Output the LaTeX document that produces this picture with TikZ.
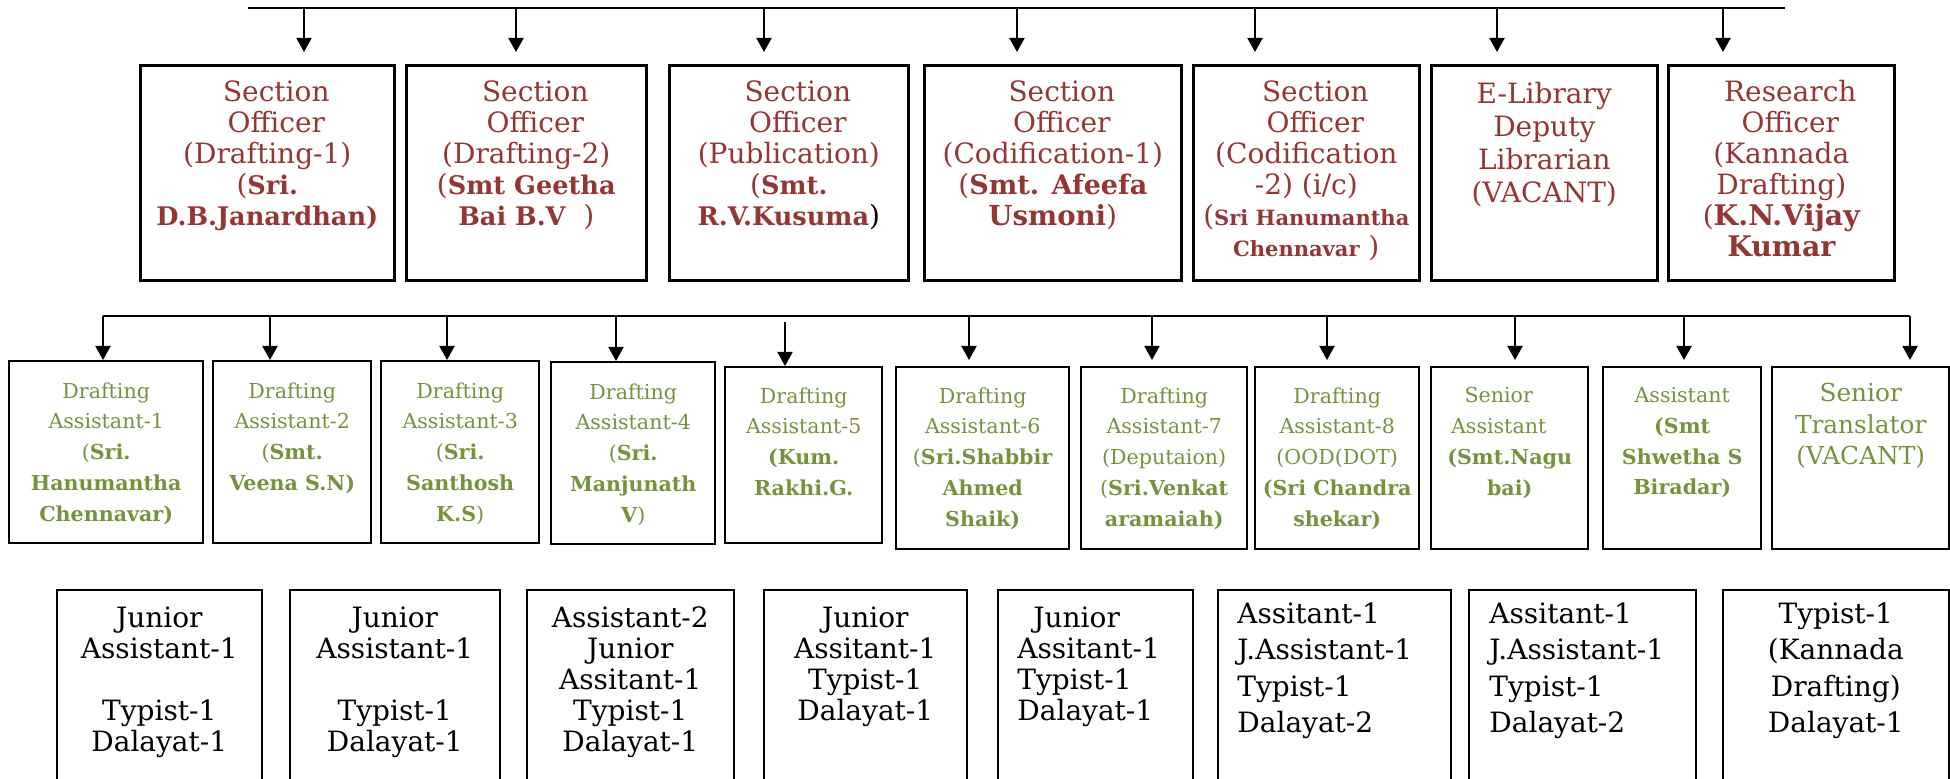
\documentclass[tikz,border=0pt]{standalone}
\usepackage{fontspec}
\setmainfont{DejaVu Serif}
\usepackage{xcolor}
\usepackage{tikz}
\usetikzlibrary{arrows.meta,positioning}
\definecolor{sored}{HTML}{943634}
\definecolor{dagreen}{HTML}{76923C}
\newcommand{\pname}[2][12.8]{{\fontsize{#1}{15.5}\selectfont\bfseries #2}}

\begin{document}
\begin{tikzpicture}[x=0.5pt,y=-0.5pt,
arr/.style={line width=1pt,-{Triangle[width=7.5pt,length=7pt]}},
sobox/.style={draw,line width=1.3pt,inner sep=0pt,anchor=north west,minimum height=107.5pt},
dabox/.style={draw,line width=1.2pt,inner sep=0pt,anchor=north west,minimum height=91pt},
stbox/.style={draw,line width=0.8pt,inner sep=0pt,anchor=north west,minimum height=110pt},
sotext/.style={inner sep=0pt,align=center,text=sored,font=\fontsize{14}{15.5}\selectfont},
datext/.style={inner sep=0pt,align=center,text=dagreen,font=\fontsize{10.3}{15.4}\selectfont},
sttext/.style={inner sep=0pt,align=center,font=\fontsize{14}{15.5}\selectfont}]
\useasboundingbox(0,0)rectangle(1950,779);
\clip(0,0)rectangle(1950,779);
\node[sobox,minimum width=127pt](so1)at(139,64){};
\node[sobox,minimum width=120pt](so2)at(405,64){};
\node[sobox,minimum width=119.5pt](so3)at(668,64){};
\node[sobox,minimum width=128.5pt](so4)at(923,64){};
\node[sobox,minimum width=113pt](so5)at(1192,64){};
\node[sobox,minimum width=113pt](so6)at(1430,64){};
\node[sobox,minimum width=113pt](so7)at(1667,64){};
\node[sotext,below=8pt of so1.north](so1t){\hspace*{9pt}Section\\\hspace*{9pt}Officer\\(Drafting-1)\\(\pname{Sri.}\\\pname{D.B.Janardhan)}};
\node[sotext,below=8pt of so2.north](so2t){\hspace*{9pt}Section\\\hspace*{9pt}Officer\\(Drafting-2)\\(\pname{Smt Geetha}\\\pname{Bai B.V}\ \ )};
\node[sotext,below=8pt of so3.north](so3t){\hspace*{9pt}Section\\\hspace*{9pt}Officer\\(Publication)\\(\pname{Smt.}\\\pname{R.V.Kusuma}\textcolor{black}{)}};
\node[sotext,below=8pt of so4.north](so4t){\hspace*{9pt}Section\\\hspace*{9pt}Officer\\(Codification-1)\\(\pname[13.5]{Smt. Afeefa}\\\pname[13.8]{Usmoni})};
\node[sotext,below=8pt of so5.north](so5t){\hspace*{9pt}Section\\\hspace*{9pt}Officer\\(Codification\\-2) (i/c)\\(\pname[10.5]{Sri Hanumantha}\\\pname[10.5]{Chennavar}\ )};
\node[sotext,font=\fontsize{14}{16.5}\selectfont,below=9pt of so6.north](so6t){E-Library\\Deputy\\Librarian\\(VACANT)};
\node[sotext,below=8pt of so7.north](so7t){\hspace*{9pt}Research\\\hspace*{9pt}Officer\\(Kannada\\Drafting)\\(\pname[14.2]{K.N.Vijay}\\\pname[14.2]{Kumar}};
\coordinate(tl)at(248,8);
\coordinate(tr)at(1785,8);
\coordinate(tp1)at(304,8);
\coordinate(tp2)at(516,8);
\coordinate(tp3)at(764,8);
\coordinate(tp4)at(1017,8);
\coordinate(tp5)at(1255,8);
\coordinate(tp6)at(1497,8);
\coordinate(tp7)at(1723,8);
\draw[line width=1.4pt](tl)--(tr);
\draw[arr,shorten >=6pt](tp1)--(tp1|-so1.north);
\draw[arr,shorten >=6pt](tp2)--(tp2|-so2.north);
\draw[arr,shorten >=6pt](tp3)--(tp3|-so3.north);
\draw[arr,shorten >=6pt](tp4)--(tp4|-so4.north);
\draw[arr,shorten >=6pt](tp5)--(tp5|-so5.north);
\draw[arr,shorten >=6pt](tp6)--(tp6|-so6.north);
\draw[arr,shorten >=6pt](tp7)--(tp7|-so7.north);
\node[dabox,minimum width=97pt](da1)at(8,360){};
\node[dabox,minimum width=79pt](da2)at(212,360){};
\node[dabox,minimum width=79pt](da3)at(380,360){};
\node[dabox,minimum width=82pt](da4)at(550,361){};
\node[dabox,minimum width=78.5pt,minimum height=88pt](da5)at(724,366){};
\node[dabox,minimum width=86.5pt](da6)at(895,366){};
\node[dabox,minimum width=83pt](da7)at(1080,366){};
\node[dabox,minimum width=82pt](da8)at(1254,366){};
\node[dabox,minimum width=78.5pt](da9)at(1430,366){};
\node[dabox,minimum width=79pt](da10)at(1602,366){};
\node[dabox,minimum width=88.5pt](da11)at(1771,366){};
\node[datext,below=11pt of da1.north](da1t){Drafting\\Assistant-1\\(\textbf{Sri.}\\\textbf{Hanumantha}\\\textbf{Chennavar)}};
\node[datext,below=11pt of da2.north](da2t){Drafting\\Assistant-2\\(\textbf{Smt.}\\\textbf{Veena S.N)}};
\node[datext,below=11pt of da3.north](da3t){Drafting\\Assistant-3\\(\textbf{Sri.}\\\textbf{Santhosh}\\\textbf{K.S})};
\node[datext,below=11pt of da4.north](da4t){Drafting\\Assistant-4\\(\textbf{Sri.}\\\textbf{Manjunath}\\\textbf{V})};
\node[datext,below=10.5pt of da5.north](da5t){Drafting\\Assistant-5\\\textbf{(Kum.}\\\textbf{Rakhi.G.}};
\node[datext,below=10.5pt of da6.north](da6t){Drafting\\Assistant-6\\(\textbf{Sri.Shabbir}\\\textbf{Ahmed}\\\textbf{Shaik)}};
\node[datext,below=10.5pt of da7.north](da7t){Drafting\\Assistant-7\\(Deputaion)\\(\textbf{Sri.Venkat}\\\textbf{aramaiah)}};
\node[datext,below=10.5pt of da8.north](da8t){Drafting\\Assistant-8\\(OOD(DOT)\\\textbf{(Sri Chandra}\\\textbf{shekar)}};
\node[datext,below=10.5pt of da9.north](da9t){Senior\rule{11pt}{0pt}\\Assistant\rule{11pt}{0pt}\\\textbf{(Smt.Nagu}\\\textbf{bai)}};
\node[datext,below=10.5pt of da10.north](da10t){Assistant\\\textbf{(Smt}\\\textbf{Shwetha S}\\\textbf{Biradar)}};
\node[datext,font=\fontsize{12.4}{15.75}\selectfont,below=8.5pt of da11.north](da11t){Senior\\Translator\\(VACANT)};
\coordinate(ml)at(103,316);
\coordinate(mr)at(1910,316);
\coordinate(mp1)at(103,316);
\coordinate(mp2)at(270,316);
\coordinate(mp3)at(447,316);
\coordinate(mp4)at(616,316);
\coordinate(mp5)at(785,316);
\coordinate(mp6)at(969,316);
\coordinate(mp7)at(1152,316);
\coordinate(mp8)at(1327,316);
\coordinate(mp9)at(1515,316);
\coordinate(mp10)at(1684,316);
\coordinate(mp11)at(1910,316);
\draw[line width=1.3pt](ml)--(mr);
\draw[arr](mp1)--(mp1|-da1.north);
\draw[arr](mp2)--(mp2|-da2.north);
\draw[arr](mp3)--(mp3|-da3.north);
\draw[arr](mp4)--(mp4|-da4.north);
\draw[arr,shorten <=3pt](mp5)--(mp5|-da5.north);
\draw[arr,shorten >=3pt](mp6)--(mp6|-da6.north);
\draw[arr,shorten >=3pt](mp7)--(mp7|-da7.north);
\draw[arr,shorten >=3pt](mp8)--(mp8|-da8.north);
\draw[arr,shorten >=3pt](mp9)--(mp9|-da9.north);
\draw[arr,shorten >=3pt](mp10)--(mp10|-da10.north);
\draw[arr,shorten >=3pt](mp11)--(mp11|-da11.north);
\node[stbox,minimum width=102.5pt](st1)at(56,589){};
\node[stbox,minimum width=105pt](st2)at(289,589){};
\node[stbox,minimum width=103.5pt](st3)at(526,589){};
\node[stbox,minimum width=101.5pt](st4)at(763,589){};
\node[stbox,minimum width=97.5pt](st5)at(997,589){};
\node[stbox,minimum width=116.5pt](st6)at(1217,589){};
\node[stbox,minimum width=113.5pt](st7)at(1468,589){};
\node[stbox,minimum width=113pt](st8)at(1722,589){};
\node[sttext,below=8.5pt of st1.north](st1t){Junior\\Assistant-1\\~\\Typist-1\\Dalayat-1};
\node[sttext,below=8.5pt of st2.north](st2t){Junior\\Assistant-1\\~\\Typist-1\\Dalayat-1};
\node[sttext,below=8.5pt of st3.north](st3t){Assistant-2\\Junior\\Assitant-1\\Typist-1\\Dalayat-1};
\node[sttext,below=8.5pt of st4.north](st4t){Junior\\Assitant-1\\Typist-1\\Dalayat-1};
\node[sttext,align=left,below right=8.5pt and 10pt of st5.north west](st5t){\hspace*{8pt}Junior\\Assitant-1\\Typist-1\\Dalayat-1};
\node[sttext,align=left,font=\fontsize{14}{18.3}\selectfont,below right=6.5pt and 10pt of st6.north west](st6t){Assitant-1\\J.Assistant-1\\Typist-1\\Dalayat-2};
\node[sttext,align=left,font=\fontsize{14}{18.3}\selectfont,below right=6.5pt and 10.5pt of st7.north west](st7t){Assitant-1\\J.Assistant-1\\Typist-1\\Dalayat-2};
\node[sttext,font=\fontsize{14}{18.3}\selectfont,below=6.5pt of st8.north](st8t){Typist-1\\(Kannada\\Drafting)\\Dalayat-1};
\end{tikzpicture}
\end{document}
